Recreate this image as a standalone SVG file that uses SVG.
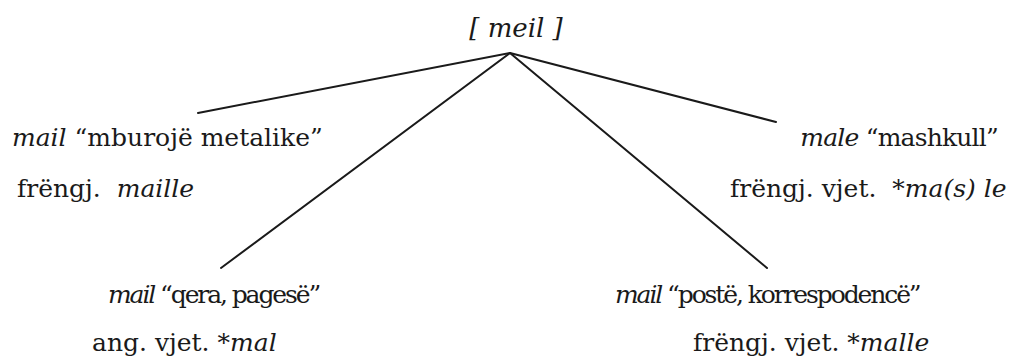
<svg xmlns="http://www.w3.org/2000/svg" width="1020" height="361" viewBox="0 0 1020 361">
<style>
text{font-family:'DejaVu Serif','Liberation Serif',serif;font-size:25px;fill:#1a1a1a}
.i{font-style:italic}
.tight{letter-spacing:-2.1px}
.edge{stroke:#1a1a1a;stroke-width:2;fill:none;stroke-linecap:round}
</style>
<rect width="1020" height="361" fill="#ffffff"/>
<g id="connectors">
<line class="edge" x1="510" y1="53" x2="198" y2="113"/>
<line class="edge" x1="510" y1="53" x2="776" y2="122"/>
<line class="edge" x1="510" y1="53" x2="221" y2="268"/>
<line class="edge" x1="510" y1="53" x2="767" y2="268"/>
</g>
<g id="root">
<text x="516" y="37" text-anchor="middle" class="i" style="font-size:26px" xml:space="preserve">[ meil ]</text>
</g>
<g id="node-mburoje">
<text x="12" y="146" xml:space="preserve"><tspan class="i">mail</tspan> “mburojë metalike”</text>
<text x="17" y="197" xml:space="preserve">frëngj.  <tspan class="i">maille</tspan></text>
</g>
<g id="node-mashkull">
<text x="998" y="146" text-anchor="end" style="letter-spacing:-0.8px" xml:space="preserve"><tspan class="i">male</tspan> “mashkull”</text>
<text x="730" y="197" xml:space="preserve">frëngj. vjet.  *<tspan class="i">ma(s) le</tspan></text>
</g>
<g id="node-qera">
<text x="108" y="303" class="tight" xml:space="preserve"><tspan class="i">mail</tspan> “qera, pagesë”</text>
<text x="92" y="351" xml:space="preserve">ang. vjet. *<tspan class="i">mal</tspan></text>
</g>
<g id="node-poste">
<text x="615" y="303" class="tight" xml:space="preserve"><tspan class="i">mail</tspan> “postë, korrespodencë”</text>
<text x="693" y="351" xml:space="preserve">frëngj. vjet. *<tspan class="i">malle</tspan></text>
</g>
</svg>
